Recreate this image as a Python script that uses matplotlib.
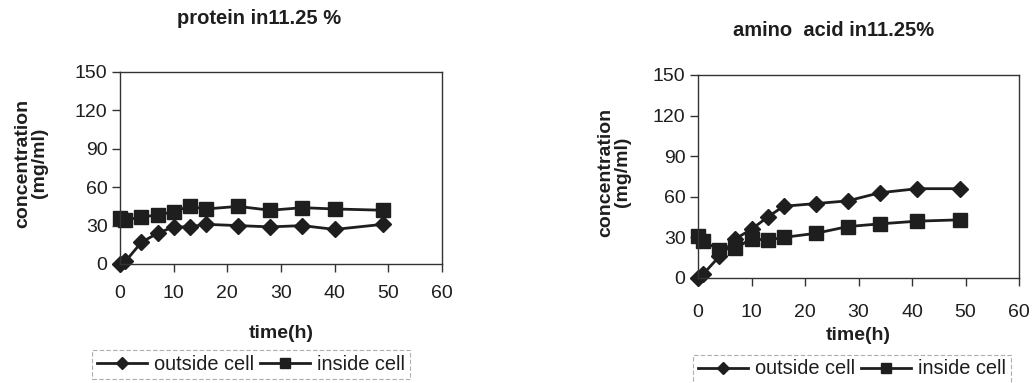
import matplotlib
matplotlib.use("Agg")
import matplotlib.pyplot as plt

plt.rcParams["font.family"] = ["Liberation Sans", "DejaVu Sans"]

# protein in 11.25 %
time_p = [0, 1, 4, 7, 10, 13, 16, 22, 28, 34, 40, 49]
protein_out = [0, 2, 17, 24, 29, 29, 31, 30, 29, 30, 27, 31]
protein_in = [36, 34, 37, 38, 41, 45, 43, 45, 42, 44, 43, 42]

# amino acid in 11.25 %
time_a = [0, 1, 4, 7, 10, 13, 16, 22, 28, 34, 41, 49]
amino_out = [0, 3, 16, 29, 36, 45, 53, 55, 57, 63, 66, 66]
amino_in = [31, 27, 21, 22, 29, 28, 30, 33, 38, 40, 42, 43]

yticks = [0, 30, 60, 90, 120, 150]
xticks = [0, 10, 20, 30, 40, 50, 60]

W, H = 1034, 383
fig = plt.figure(figsize=(W / 100, H / 100), dpi=100)
INK = "#1e1e1e"


def panel(rect, t, out, inn, title, title_xy, ylab_xy, xlab_y, xpad,
          leg_xy):
    l, b, r, top = rect
    ax = fig.add_axes([l / W, 1 - b / H, (r - l) / W, (b - top) / H])
    ax.plot(t, out, color=INK, lw=2, marker="D", ms=8, clip_on=False,
            label="outside cell")
    ax.plot(t, inn, color=INK, lw=2, marker="s", ms=9.5, clip_on=False,
            label="inside cell")
    ax.set_xlim(0, 60)
    ax.set_ylim(0, 150)
    ax.set_xticks(xticks)
    ax.set_yticks(yticks)
    ax.tick_params(labelsize=14, length=6, width=1, direction="out",
                   colors="#333333", labelcolor=INK)
    ax.tick_params(axis="y", pad=3)
    ax.tick_params(axis="x", pad=xpad)
    for s in ax.spines.values():
        s.set_linewidth(1)
        s.set_color("#333333")
    fig.text(title_xy[0] / W, 1 - title_xy[1] / H, title, ha="center",
             va="center", fontsize=14.5, fontweight="bold", color=INK)
    fig.text(ylab_xy[0] / W, 1 - ylab_xy[1] / H, "concentration\n(mg/ml)",
             rotation=90, ha="center", va="center", fontsize=14,
             fontweight="bold", color=INK, linespacing=1.0)
    fig.text((l + r) / 2 / W, 1 - xlab_y / H, "time(h)", ha="center",
             va="center", fontsize=14, fontweight="bold", color=INK)
    h, lab = ax.get_legend_handles_labels()
    leg = fig.legend(h, lab, ncol=2, loc="center",
                     bbox_to_anchor=(leg_xy[0] / W, 1 - leg_xy[1] / H),
                     fontsize=14.4, frameon=True, fancybox=False,
                     handlelength=2.5, handletextpad=0.35,
                     columnspacing=0.25, borderpad=0.25, borderaxespad=0,
                     markerscale=0.8, labelcolor=INK)
    fr = leg.get_frame()
    fr.set_edgecolor("#9a9a9a")
    fr.set_linestyle((0, (4, 2)))
    fr.set_linewidth(0.8)
    return ax


panel((120, 264, 442, 72), time_p, protein_out, protein_in,
      "protein in11.25 %", (259, 19), (31, 163), 333, 9, (251, 364))
panel((698, 278, 1019, 75), time_a, amino_out, amino_in,
      "amino  acid in11.25%", (834, 30), (614, 172), 336, 13, (852, 369))

fig.savefig("out.png", dpi=100, facecolor="white")
